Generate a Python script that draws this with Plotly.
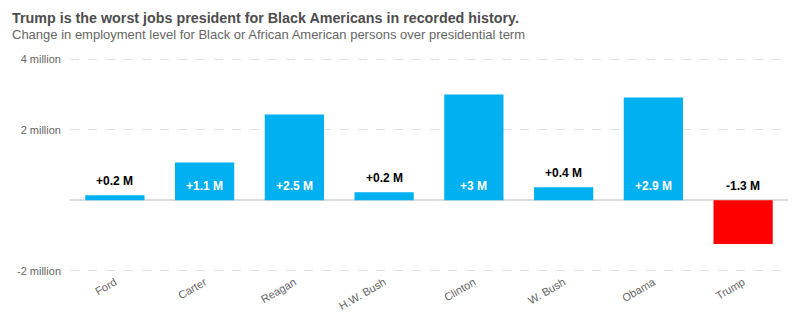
import plotly.graph_objects as go

presidents = ["Ford", "Carter", "Reagan", "H.W. Bush", "Clinton", "W. Bush", "Obama", "Trump"]
change_millions = [0.14, 1.07, 2.43, 0.23, 3.0, 0.37, 2.91, -1.24]
labels = ["+0.2 M", "+1.1 M", "+2.5 M", "+0.2 M", "+3 M", "+0.4 M", "+2.9 M", "-1.3 M"]
colors = ["#00B0F0"] * 7 + ["#FF0000"]
inside = [False, True, True, False, True, False, True, False]

values = [v * 1e6 for v in change_millions]

fig = go.Figure()
fig.add_trace(go.Bar(
    x=presidents, y=values, marker=dict(color=colors, line=dict(width=0)),
    width=0.66, hoverinfo="skip",
))

font = "Liberation Sans, Arial, sans-serif"
for p, v, lab, ins in zip(presidents, values, labels, inside):
    if ins or v < 0:
        fig.add_annotation(x=p, y=0, text=f"<b>{lab}</b>", showarrow=False,
                           yanchor="bottom", yshift=5,
                           font=dict(family=font, size=12, color="white" if ins else "black"))
    else:
        fig.add_annotation(x=p, y=v, text=f"<b>{lab}</b>", showarrow=False,
                           yanchor="bottom", yshift=5,
                           font=dict(family=font, size=12, color="black"))

fig.add_annotation(xref="paper", yref="paper", x=-0.083, y=1.0, yshift=39,
                   xanchor="left", yanchor="middle", showarrow=False,
                   text="<b>Trump is the worst jobs president for Black Americans in recorded history.</b>",
                   font=dict(family=font, size=14.3, color="#4d4d4d"))
fig.add_annotation(xref="paper", yref="paper", x=-0.083, y=1.0, yshift=23,
                   xanchor="left", yanchor="middle", showarrow=False,
                   text="Change in employment level for Black or African American persons over presidential term",
                   font=dict(family=font, size=13, color="#666666"))

fig.update_layout(
    width=800, height=329,
    margin=dict(l=70, r=12, t=57, b=56),
    paper_bgcolor="white", plot_bgcolor="white",
    showlegend=False,
    font=dict(family=font, color="#666666"),
    xaxis=dict(
        tickangle=-30, tickfont=dict(size=11, color="#666666"),
        showline=False, showgrid=False, ticks="", range=[-0.5, 7.5],
    ),
    yaxis=dict(
        range=[-2.06e6, 4.06e6], tickvals=[-2e6, 0, 2e6, 4e6],
        ticktext=["-2 million", "", "2 million", "4 million"],
        tickfont=dict(size=11, color="#666666"),
        showgrid=True, gridcolor="#e0e0e0", griddash="dash", gridwidth=1,
        zeroline=True, zerolinecolor="#dddddd", zerolinewidth=1.5,
        ticks="", ticklabelstandoff=8,
    ),
)

fig.write_html("out.html")
